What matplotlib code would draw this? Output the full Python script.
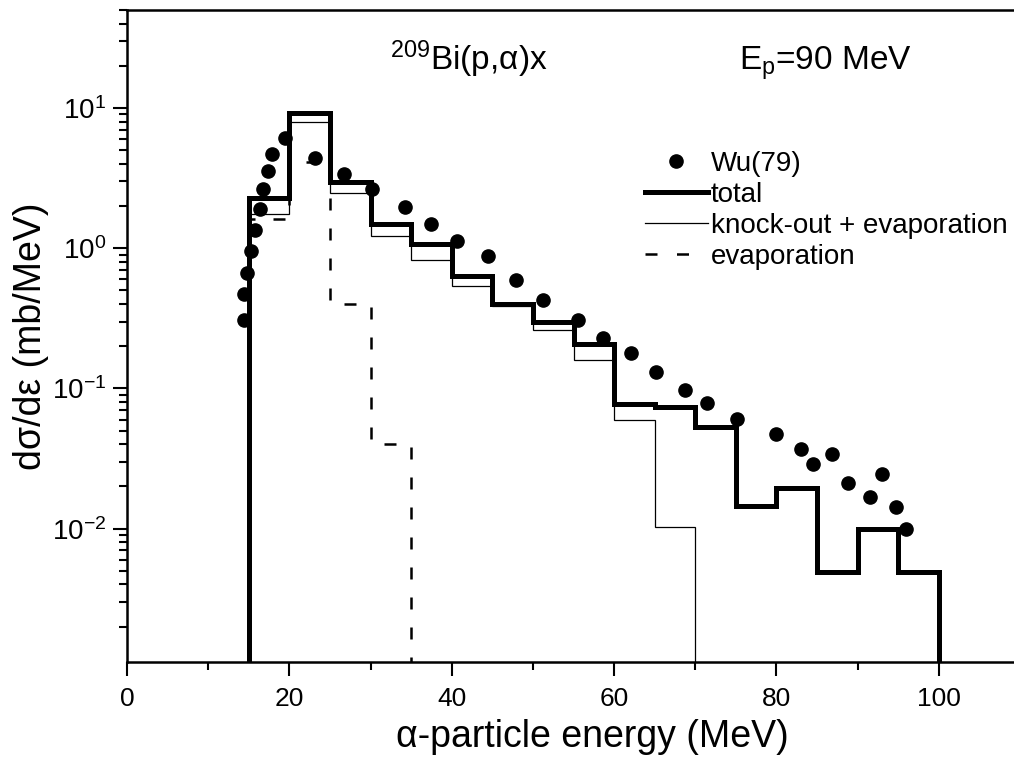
import numpy as np
import matplotlib
matplotlib.use("Agg")
import matplotlib.pyplot as plt
from matplotlib.lines import Line2D
from matplotlib.ticker import LogLocator, MultipleLocator, NullFormatter

plt.rcParams['font.family'] = ['Liberation Sans', 'DejaVu Sans']
plt.rcParams['mathtext.fontset'] = 'custom'
plt.rcParams['mathtext.rm'] = 'Liberation Sans'
plt.rcParams['mathtext.it'] = 'Liberation Sans:italic'
plt.rcParams['mathtext.bf'] = 'Liberation Sans:bold'

# energy bin edges (MeV), 5 MeV wide
edges_total = [15, 20, 25, 30, 35, 40, 45, 50, 55, 60, 65, 70, 75, 80, 85, 90, 95, 100]
total = [2.27, 9.2, 2.96, 1.5, 1.08, 0.63, 0.40, 0.30, 0.206, 0.078, 0.074,
         0.053, 0.0146, 0.0195, 0.0049, 0.0100, 0.0049]

edges_ko = [15, 20, 25, 30, 35, 40, 45, 50, 55, 60, 65, 70]
knockout_evap = [1.75, 7.9, 2.48, 1.22, 0.82, 0.54, 0.39, 0.26, 0.16, 0.060, 0.0102]

edges_evap = [15, 20, 25, 30, 35]
evap = [1.61, 4.1, 0.40, 0.040]

# Wu(79) experimental points
wu_e = [14.4, 14.4, 14.8, 15.3, 15.8, 16.4, 16.8, 17.4, 17.9, 19.5, 23.2, 26.7,
        30.2, 34.2, 37.4, 40.7, 44.5, 47.9, 51.3, 55.6, 58.6, 62.1, 65.2, 68.7,
        71.5, 75.2, 79.9, 83.0, 84.5, 86.8, 88.8, 91.5, 93.0, 94.7, 96.0]
wu_sig = [0.31, 0.47, 0.67, 0.95, 1.34, 1.9, 2.64, 3.55, 4.7, 6.1, 4.4, 3.4,
          2.64, 1.96, 1.48, 1.12, 0.88, 0.59, 0.43, 0.31, 0.23, 0.18, 0.13, 0.098,
          0.079, 0.061, 0.047, 0.037, 0.029, 0.034, 0.021, 0.0167, 0.0244, 0.0142, 0.0100]

W, H = 1014, 764
fig = plt.figure(figsize=(W / 100, H / 100), dpi=100)
ax = fig.add_axes([127 / W, 1 - 662 / H, 893 / W, 652 / H])

dash = (0, (4.8, 7.2))
base = 1e-5
ax.stairs(knockout_evap, edges_ko, baseline=base, color='black', lw=0.9)
ax.stairs(evap, edges_evap, baseline=base, color='black', lw=1.8, linestyle=dash)
ax.stairs(total, edges_total, baseline=base, color='black', lw=3.6)
ax.plot(wu_e, wu_sig, 'o', color='black', ms=9.5, zorder=5)

ax.set_yscale('log')
ax.set_xlim(0, 110)
ax.set_ylim(1.12e-3, 50)

ax.xaxis.set_major_locator(MultipleLocator(20))
ax.xaxis.set_minor_locator(MultipleLocator(10))
ax.yaxis.set_major_locator(LogLocator(base=10, numticks=20))
ax.yaxis.set_minor_locator(LogLocator(base=10, subs=np.arange(2, 10), numticks=20))
ax.yaxis.set_minor_formatter(NullFormatter())

for s in ax.spines.values():
    s.set_linewidth(1.8)
ax.tick_params(which='major', direction='out', length=10, width=1.5, pad=5)
ax.tick_params(which='minor', direction='out', length=6, width=1.5)
ax.tick_params(axis='x', labelsize=19, pad=8)
ax.tick_params(axis='y', labelsize=20)
ax.tick_params(top=False, right=False)

ax.set_xlabel('α-particle energy (MeV)', fontsize=27)
ax.xaxis.set_label_coords(0.521, -0.088)
ax.set_ylabel('dσ/dε (mb/MeV)', fontsize=27, labelpad=2)

fig.text(390 / W, 1 - 70 / H, r'$^{209}$Bi(p,α)x', fontsize=24, va='baseline', ha='left')
fig.text(739 / W, 1 - 70 / H, r'E$_\mathrm{p}$=90 MeV', fontsize=24, va='baseline', ha='left')

handles = [
    Line2D([], [], marker='o', color='black', ls='none', ms=9.5),
    Line2D([], [], color='black', lw=3.6),
    Line2D([], [], color='black', lw=0.9),
    Line2D([], [], color='black', lw=1.8, linestyle=(0, (4.8, 7.8))),
]
labels = ['Wu(79)', 'total', 'knock-out + evaporation', 'evaporation']
ax.legend(handles, labels, loc='upper left', bbox_to_anchor=(645 / W, 1 - 151 / H),
          bbox_transform=fig.transFigure, frameon=False, fontsize=20,
          handlelength=2.25, handletextpad=0.12, labelspacing=0.18,
          borderpad=0, borderaxespad=0)

fig.savefig('out.png', dpi=100)
